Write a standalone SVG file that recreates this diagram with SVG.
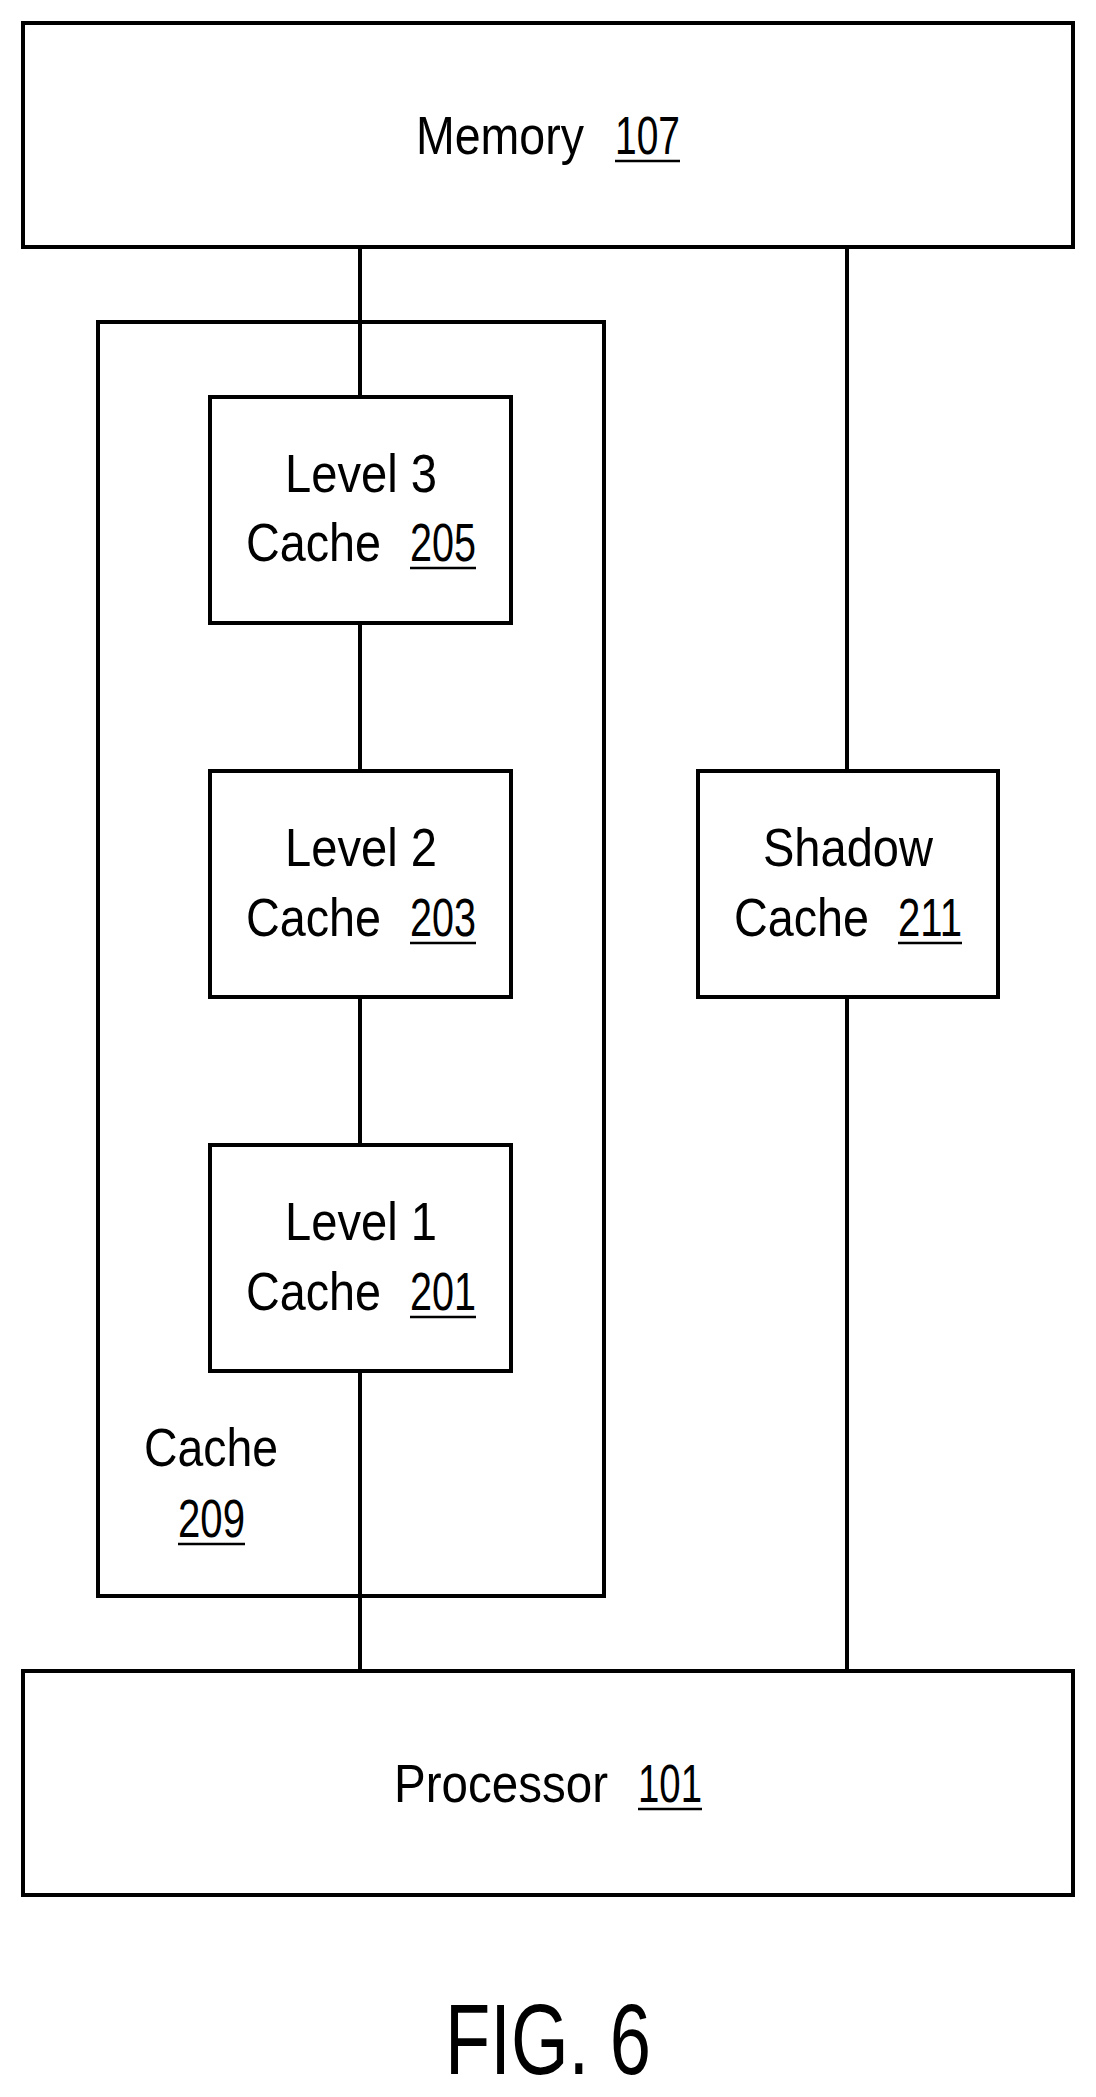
<svg xmlns="http://www.w3.org/2000/svg" width="1096" height="2097" viewBox="0 0 1096 2097">
<style>
rect{fill:#fff;stroke:#000;stroke-width:4}
line{stroke:#000;stroke-width:4}
.u{stroke-width:2.5}
text{font-family:"Liberation Sans",Arial,sans-serif;font-size:54px;fill:#000}
</style>
<rect x="0" y="0" width="1096" height="2097" style="stroke:none"/>
<g id="connectors">
<line x1="360" y1="247" x2="360" y2="397"/>
<line x1="360" y1="623" x2="360" y2="771"/>
<line x1="360" y1="997" x2="360" y2="1145"/>
<line x1="360" y1="1371" x2="360" y2="1671"/>
<line x1="847" y1="247" x2="847" y2="771"/>
<line x1="847" y1="997" x2="847" y2="1671"/>
</g>
<g id="cache209">
<rect x="98" y="322" width="506" height="1274" style="fill:none"/>
<text x="144" y="1466" textLength="134" lengthAdjust="spacingAndGlyphs">Cache</text>
<text x="178" y="1537" textLength="67" lengthAdjust="spacingAndGlyphs">209</text>
<line class="u" x1="178" y1="1544" x2="245" y2="1544"/>
</g>
<g id="memory">
<rect x="23" y="23" width="1050" height="224"/>
<text x="416" y="154" textLength="168" lengthAdjust="spacingAndGlyphs">Memory</text>
<text x="615" y="154" textLength="65" lengthAdjust="spacingAndGlyphs">107</text>
<line class="u" x1="615" y1="161" x2="680" y2="161"/>
</g>
<g id="l3">
<rect x="210" y="397" width="301" height="226"/>
<text x="285" y="492" textLength="152" lengthAdjust="spacingAndGlyphs">Level 3</text>
<text x="246" y="561" textLength="135" lengthAdjust="spacingAndGlyphs">Cache</text>
<text x="410" y="561" textLength="66" lengthAdjust="spacingAndGlyphs">205</text>
<line class="u" x1="410" y1="568" x2="476" y2="568"/>
</g>
<g id="l2">
<rect x="210" y="771" width="301" height="226"/>
<text x="285" y="866" textLength="152" lengthAdjust="spacingAndGlyphs">Level 2</text>
<text x="246" y="936" textLength="135" lengthAdjust="spacingAndGlyphs">Cache</text>
<text x="410" y="936" textLength="66" lengthAdjust="spacingAndGlyphs">203</text>
<line class="u" x1="410" y1="943" x2="476" y2="943"/>
</g>
<g id="l1">
<rect x="210" y="1145" width="301" height="226"/>
<text x="285" y="1240" textLength="152" lengthAdjust="spacingAndGlyphs">Level 1</text>
<text x="246" y="1310" textLength="135" lengthAdjust="spacingAndGlyphs">Cache</text>
<text x="410" y="1310" textLength="66" lengthAdjust="spacingAndGlyphs">201</text>
<line class="u" x1="410" y1="1317" x2="476" y2="1317"/>
</g>
<g id="shadow">
<rect x="698" y="771" width="300" height="226"/>
<text x="763" y="866" textLength="170" lengthAdjust="spacingAndGlyphs">Shadow</text>
<text x="734" y="936" textLength="135" lengthAdjust="spacingAndGlyphs">Cache</text>
<text x="898" y="936" textLength="64" lengthAdjust="spacingAndGlyphs">211</text>
<line class="u" x1="898" y1="943" x2="962" y2="943"/>
</g>
<g id="processor">
<rect x="23" y="1671" width="1050" height="224"/>
<text x="394" y="1802" textLength="214" lengthAdjust="spacingAndGlyphs">Processor</text>
<text x="638" y="1802" textLength="64" lengthAdjust="spacingAndGlyphs">101</text>
<line class="u" x1="638" y1="1809" x2="702" y2="1809"/>
</g>
<text x="445" y="2074" style="font-size:100px" textLength="206" lengthAdjust="spacingAndGlyphs">FIG. 6</text>
</svg>
